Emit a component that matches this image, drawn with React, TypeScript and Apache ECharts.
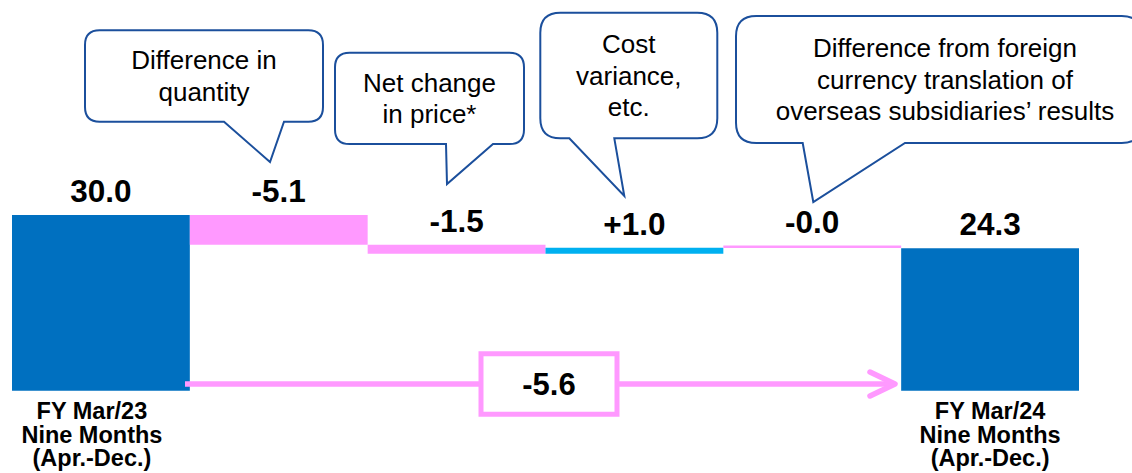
import React, { useEffect, useRef } from "react";
import * as echarts from "echarts";

// ---- data ----
const categories = [
  "FY Mar/23\nNine Months\n(Apr.-Dec.)",
  "Difference in quantity",
  "Net change in price*",
  "Cost variance, etc.",
  "Difference from foreign currency translation of overseas subsidiaries’ results",
  "FY Mar/24\nNine Months\n(Apr.-Dec.)",
];
const startValue = 30.0;
const changes = [-5.1, -1.5, 1.0, -0.04];
const endValue = 24.3;
const totalChangeLabel = "-5.6";
const calloutTexts = [
  "Difference in\nquantity",
  "Net change\nin price*",
  "Cost\nvariance,\netc.",
  "Difference from foreign\ncurrency translation of\noverseas subsidiaries’ results",
];

// ---- styles ----
const BLUE = "#0070C0";
const PINK = "#FF99FF";
const CYAN = "#00B0F0";
const CALLOUT_STROKE = "#1B4F9C";
const FONT = "'Liberation Sans', Arial, sans-serif";

// callout geometry: box (x0,y0,x1,y1), tail base left/right, tip
const callouts = [
  { x0: 85, y0: 30.3, x1: 323, y1: 121.7, tl: 224, tr: 284, tx: 270, ty: 162 },
  { x0: 335, y0: 52.7, x1: 524, y1: 144, tl: 446, tr: 493, tx: 447, ty: 184 },
  { x0: 540.3, y0: 12.7, x1: 717.3, y1: 138.3, tl: 569.3, tr: 614.3, tx: 624.3, ty: 196 },
  { x0: 736, y0: 16, x1: 1142, y1: 143, tl: 802.7, tr: 905, tx: 813.3, ty: 202 },
];

function calloutPath(c: any) {
  const r = 0.16 * Math.min(c.x1 - c.x0, c.y1 - c.y0);
  return [
    `M${c.x0 + r} ${c.y0}`,
    `L${c.x1 - r} ${c.y0}`,
    `Q${c.x1} ${c.y0} ${c.x1} ${c.y0 + r}`,
    `L${c.x1} ${c.y1 - r}`,
    `Q${c.x1} ${c.y1} ${c.x1 - r} ${c.y1}`,
    `L${c.tr} ${c.y1}`,
    `L${c.tx} ${c.ty}`,
    `L${c.tl} ${c.y1}`,
    `L${c.x0 + r} ${c.y1}`,
    `Q${c.x0} ${c.y1} ${c.x0} ${c.y1 - r}`,
    `L${c.x0} ${c.y0 + r}`,
    `Q${c.x0} ${c.y0} ${c.x0 + r} ${c.y0}`,
    "Z",
  ].join(" ");
}

callouts.forEach((c, i) => {
  echarts.graphic.registerShape("callout" + i, echarts.graphic.extendPath(calloutPath(c), {}) as any);
});

export default function App() {
  const ref = useRef<HTMLDivElement>(null);
  useEffect(() => {
    if (!ref.current) return;
    const chart = echarts.init(ref.current, null, { renderer: "svg" });

    const base: number[] = [0];
    const heights: number[] = [startValue];
    const colors: string[] = [BLUE];
    let run = startValue;
    changes.forEach((d) => {
      base.push(Math.min(run, run + d));
      heights.push(Math.abs(d));
      colors.push(d < 0 ? PINK : CYAN);
      run += d;
    });
    base.push(0);
    heights.push(endValue);
    colors.push(BLUE);

    const fmtSigned = (d: number) => (d < 0 ? "-" : "+") + Math.abs(d).toFixed(1);
    const labels = [startValue.toFixed(1), ...changes.map(fmtSigned), endValue.toFixed(1)];

    const graphic: any[] = [];
    callouts.forEach((c, i) => {
      graphic.push({
        type: "callout" + i,
        z: 100,
        style: { fill: "#ffffff", stroke: CALLOUT_STROKE, lineWidth: 2 },
      });
      graphic.push({
        type: "text",
        z: 101,
        x: (c.x0 + c.x1) / 2 + (i === 3 ? 6 : 0),
        y: (c.y0 + c.y1) / 2,
        style: {
          text: calloutTexts[i],
          fontSize: 26,
          lineHeight: 31.5,
          fontFamily: FONT,
          fill: "#000",
          align: "center",
          verticalAlign: "middle",
        },
      });
    });
    // total change arrow
    graphic.push({
      type: "line",
      z: 100,
      shape: { x1: 185, y1: 384, x2: 892, y2: 384 },
      style: { stroke: PINK, lineWidth: 5.5 },
    });
    graphic.push({
      type: "polyline",
      z: 100,
      shape: { points: [[870, 372], [895, 384], [870, 396]] },
      style: { stroke: PINK, lineWidth: 5.5, lineCap: "round", lineJoin: "round", fill: null },
    });
    graphic.push({
      type: "rect",
      z: 101,
      shape: { x: 481, y: 353.7, width: 136, height: 60.6 },
      style: { fill: "#fff", stroke: PINK, lineWidth: 5 },
    });
    graphic.push({
      type: "text",
      z: 102,
      x: 549,
      y: 384,
      style: {
        text: totalChangeLabel,
        fontSize: 31,
        fontWeight: "bold",
        fontFamily: FONT,
        fill: "#000",
        align: "center",
        verticalAlign: "middle",
      },
    });

    const labelRich = {
      fontSize: 23.5,
      lineHeight: 23.5,
      fontWeight: "bold",
      fontFamily: FONT,
      color: "#000",
    };

    chart.setOption({
      animation: false,
      grid: { left: 12, right: 53, top: 156.4, bottom: 82.3, containLabel: false, outerBoundsMode: "none" } as any,
      xAxis: {
        type: "category",
        data: categories,
        axisLine: { show: false },
        axisTick: { show: false },
        axisLabel: {
          interval: 0,
          margin: 9,
          fontSize: 23.5,
          lineHeight: 23.5,
          fontWeight: "bold",
          fontFamily: FONT,
          color: "#000",
          formatter: (v: string, i: number) => {
            if (i === 0) return v.split("\n").map((s) => `{l|${s}}`).join("\n");
            if (i === categories.length - 1) return v.split("\n").map((s) => `{r|${s}}`).join("\n");
            return "";
          },
          rich: {
            l: { ...labelRich, padding: [0, 18, 0, 0] },
            r: { ...labelRich },
          },
        },
      },
      yAxis: { type: "value", min: 0, max: 40, show: false },
      series: [
        {
          type: "bar",
          stack: "w",
          data: base,
          silent: true,
          barCategoryGap: 0,
          itemStyle: { color: "transparent" },
        },
        {
          type: "bar",
          stack: "w",
          barCategoryGap: 0,
          barMinHeight: 2.5,
          data: heights.map((v, i) => ({ value: v, itemStyle: { color: colors[i] } })),
          label: {
            show: true,
            position: "top",
            distance: 8,
            formatter: (p: any) => labels[p.dataIndex],
            fontSize: 31.5,
            fontWeight: "bold",
            fontFamily: FONT,
            color: "#000",
          },
        },
      ],
      graphic,
    });
    return () => chart.dispose();
  }, []);
  return (
    <div
      ref={ref}
      style={{ position: "fixed", left: 0, top: 0, width: 1132, height: 473, background: "#fff" }}
    />
  );
}
